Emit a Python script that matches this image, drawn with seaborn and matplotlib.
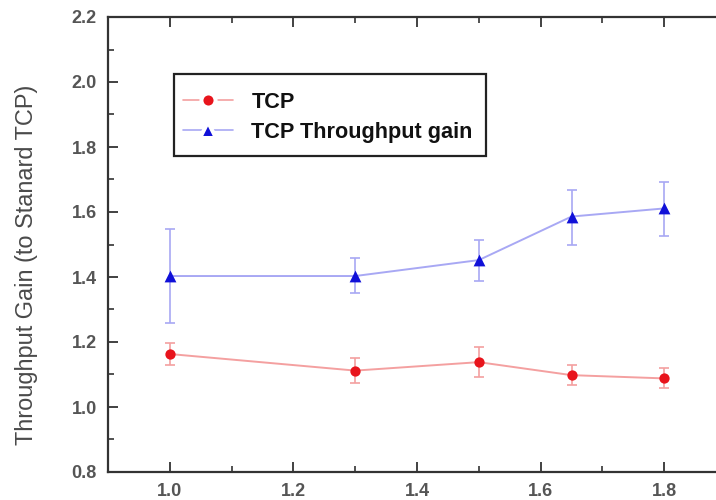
import matplotlib
matplotlib.use("Agg")
import matplotlib.pyplot as plt
import seaborn as sns
import pandas as pd
from matplotlib.ticker import MultipleLocator
from matplotlib.lines import Line2D
from matplotlib.patches import Rectangle

# Data
x_vals = [1.0, 1.3, 1.5, 1.65, 1.8]
tcp_vals = [1.163, 1.112, 1.138, 1.098, 1.088]
tcp_err = [0.035, 0.039, 0.047, 0.031, 0.031]
gain_vals = [1.403, 1.403, 1.452, 1.586, 1.611]
gain_err_low = [0.144, 0.053, 0.064, 0.088, 0.085]
gain_err_high = [0.145, 0.054, 0.062, 0.082, 0.082]
series_names = ["TCP", "TCP Throughput gain"]
x_ticks = [1.0, 1.2, 1.4, 1.6, 1.8]
y_ticks = [0.8, 1.0, 1.2, 1.4, 1.6, 1.8, 2.0, 2.2]

sns.set_style("ticks")
plt.rcParams['font.family'] = ['Liberation Sans', 'DejaVu Sans']

fig = plt.figure(figsize=(7.16, 5.0), dpi=100)
W, H = 716, 500
AX_L, AX_B, AX_W, AX_H = 108, 472, 618, 455
ax = fig.add_axes([AX_L / W, (H - AX_B) / H, AX_W / W, AX_H / H])

def px2ax(px, py):
    return ((px - AX_L) / AX_W, (AX_B - py) / AX_H)

df = pd.DataFrame({
    "x": x_vals * 2,
    "y": tcp_vals + gain_vals,
    "series": [series_names[0]] * len(x_vals) + [series_names[1]] * len(x_vals),
})

line_cols = {series_names[0]: "#f4a0a0", series_names[1]: "#a8a8f4"}
mark_cols = {series_names[0]: "#e8141c", series_names[1]: "#1010d8"}

sns.lineplot(data=df, x="x", y="y", hue="series", palette=line_cols,
             ax=ax, legend=False, linewidth=1.4, zorder=2)

ax.errorbar(x_vals, tcp_vals, yerr=tcp_err, fmt="none", ecolor="#f4a0a0",
            elinewidth=1.2, capsize=3.5, capthick=1.2, zorder=2)
ax.errorbar(x_vals, gain_vals, yerr=[gain_err_low, gain_err_high], fmt="none",
            ecolor="#a8a8f4", elinewidth=1.2, capsize=3.5, capthick=1.2, zorder=2)

ax.scatter(x_vals, tcp_vals, marker="o", s=55, color=mark_cols[series_names[0]],
           zorder=3, linewidths=0)
ax.scatter(x_vals, gain_vals, marker="^", s=72, color=mark_cols[series_names[1]],
           zorder=3, linewidths=0)

ax.set_xlim(0.9, 1.9)
ax.set_ylim(0.8, 2.2)
ax.set_xticks(x_ticks)
ax.set_yticks(y_ticks)
ax.set_xticklabels([f"{v:.1f}" for v in x_ticks])
ax.set_yticklabels([f"{v:.1f}" for v in y_ticks])
ax.xaxis.set_minor_locator(MultipleLocator(0.1))
ax.yaxis.set_minor_locator(MultipleLocator(0.1))
ax.tick_params(which="both", direction="in", top=True, right=True,
               color="#333333", labelcolor="#555555")
ax.tick_params(which="major", length=7, width=1.3, labelsize=13, pad=8)
ax.tick_params(which="minor", length=4, width=1.2)
for lbl in ax.get_xticklabels() + ax.get_yticklabels():
    lbl.set_fontweight("bold")
for sp in ax.spines.values():
    sp.set_linewidth(1.6)
    sp.set_color("#333333")

ax.set_xlabel("")
ax.set_ylabel("Throughput Gain (to Stanard TCP)", fontsize=16.9, color="#4a4a4a")
ax.yaxis.set_label_coords((38 - AX_L) / AX_W, (AX_B - 265) / AX_H)

# legend frame
x0, y0 = px2ax(174, 156)
x1, y1 = px2ax(486, 74)
ax.add_patch(Rectangle((x0, y0), x1 - x0, y1 - y0, transform=ax.transAxes,
                       fill=True, facecolor="white", edgecolor="#222222",
                       linewidth=1.6, zorder=4))

handles = [
    Line2D([], [], color="#f4a0a0", marker="o", markersize=10.2,
           markerfacecolor=mark_cols[series_names[0]], markeredgecolor="white",
           markeredgewidth=2.9, linewidth=1.2),
    Line2D([], [], color="#a8a8f4", marker="^", markersize=12,
           markerfacecolor=mark_cols[series_names[1]], markeredgecolor="white",
           markeredgewidth=2.9, linewidth=1.2),
]
leg = ax.legend(handles, series_names, loc="upper left",
                bbox_to_anchor=px2ax(183, 92),
                frameon=False, prop={"weight": "bold", "size": 15.6},
                handlelength=2.3, handletextpad=0.85, borderpad=0,
                labelspacing=0.4, borderaxespad=0)
leg.set_zorder(5)
for t in leg.get_texts():
    t.set_color("#111111")

fig.savefig("out.png", dpi=100)
